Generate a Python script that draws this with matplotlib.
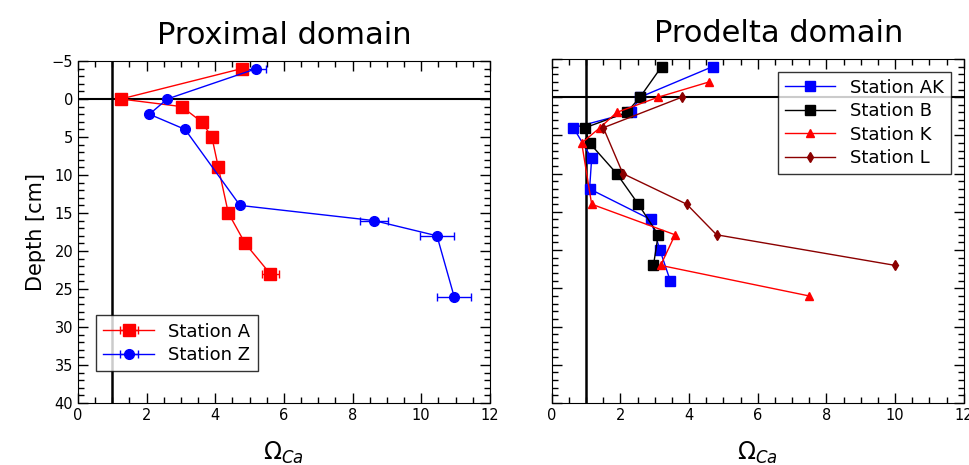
import numpy as np
import matplotlib.pyplot as plt
from matplotlib.ticker import MultipleLocator

# ---- data (omega_Ca vs depth in cm) ----
# proximal domain
depth_A = [-4, 0, 1, 3, 5, 9, 15, 19, 23]
omega_A = [4.77, 1.25, 3.02, 3.6, 3.9, 4.09, 4.38, 4.87, 5.6]
err_A = [0, 0, 0, 0, 0, 0, 0, 0, 0.25]

depth_Z = [-4, 0, 2, 4, 14, 16, 18, 26]
omega_Z = [5.2, 2.6, 2.08, 3.12, 4.72, 8.63, 10.46, 10.96]
err_Z = [0.27, 0, 0, 0, 0, 0.4, 0.5, 0.5]

# prodelta domain
depth_AK = [-4, 0, 2, 4, 8, 12, 16, 20, 24]
omega_AK = [4.69, 2.57, 2.3, 0.63, 1.16, 1.1, 2.88, 3.15, 3.45]

depth_B = [-4, 0, 2, 4, 6, 10, 14, 18, 22]
omega_B = [3.2, 2.57, 2.18, 0.97, 1.1, 1.89, 2.52, 3.1, 2.96]

depth_K = [-2, 0, 2, 4, 6, 14, 18, 22, 26]
omega_K = [4.59, 3.1, 1.89, 1.4, 0.87, 1.16, 3.59, 3.17, 7.5]

depth_L = [0, 4, 10, 14, 18, 22]
omega_L = [3.79, 1.5, 2.07, 3.93, 4.8, 10.0]


fig = plt.figure(figsize=(9.69, 4.65), dpi=100)
ax1 = fig.add_axes([0.0805, 0.1333, 0.425, 0.7355])
ax2 = fig.add_axes([0.5695, 0.1333, 0.425, 0.740])


def style(ax):
    ax.set_xlim(0, 12)
    ax.set_ylim(40, -5)
    ax.axvline(1, color="k", lw=1.8, zorder=1)
    ax.axhline(0, color="k", lw=1.5, zorder=1)
    ax.xaxis.set_major_locator(MultipleLocator(2))
    ax.xaxis.set_minor_locator(MultipleLocator(0.5))
    ax.yaxis.set_major_locator(MultipleLocator(5))
    ax.yaxis.set_minor_locator(MultipleLocator(1))
    ax.tick_params(which="both", direction="in", top=True, right=True, labelsize=10.5)
    ax.tick_params(which="major", length=7, width=1)
    ax.tick_params(which="minor", length=4, width=1)
    ax.set_xlabel(r"$\Omega_{Ca}$", fontsize=17, labelpad=12)


# left panel
ax1.errorbar(omega_A, depth_A, xerr=err_A, color="r", marker="s", ms=8, lw=1,
             capsize=3, label="Station A", zorder=3)
ax1.errorbar(omega_Z, depth_Z, xerr=err_Z, color="b", marker="o", ms=7, lw=1,
             capsize=3, label="Station Z", zorder=3)
style(ax1)
ax1.set_ylabel("Depth [cm]", fontsize=15)
ax1.set_title("Proximal domain", fontsize=22, pad=12)
ax1.legend(loc="lower left", fontsize=13, fancybox=False, edgecolor="k",
           borderaxespad=1.0, handlelength=2.8, labelspacing=0.3,
           bbox_to_anchor=(0.0, 0.04))

# right panel
ax2.plot(omega_AK, depth_AK, color="b", marker="s", ms=7, lw=1, label="Station AK", zorder=3)
ax2.plot(omega_B, depth_B, color="k", marker="s", ms=7, lw=1, label="Station B", zorder=3)
ax2.plot(omega_K, depth_K, color="r", marker="^", ms=6, lw=1, label="Station K", zorder=3)
ax2.plot(omega_L, depth_L, color="darkred", marker="d", ms=5, lw=1, label="Station L", zorder=3)
style(ax2)
ax2.set_yticklabels([])
ax2.set_title("Prodelta domain", fontsize=22, pad=12, x=0.55)
ax2.legend(loc="upper right", fontsize=13, fancybox=False, edgecolor="k",
           handlelength=2.8, labelspacing=0.3, borderaxespad=0.7)

fig.savefig("out.png", dpi=100)
